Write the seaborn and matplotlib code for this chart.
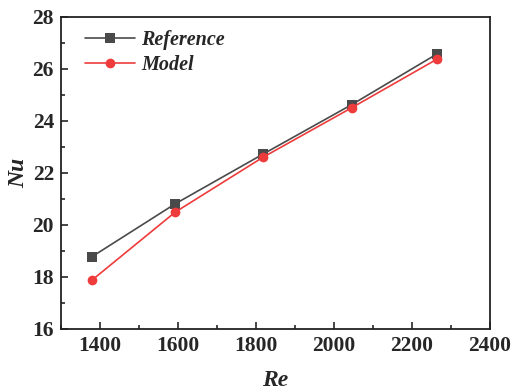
import matplotlib
matplotlib.use("Agg")
import matplotlib.pyplot as plt
import seaborn as sns
import pandas as pd
from matplotlib.ticker import MultipleLocator

re_vals = [1380, 1593, 1818, 2045, 2265]
nu_reference = [18.78, 20.81, 22.72, 24.62, 26.58]
nu_model = [17.88, 20.49, 22.60, 24.50, 26.38]
series_names = ["Reference", "Model"]

df = pd.DataFrame({
    "Re": re_vals * 2,
    "Nu": nu_reference + nu_model,
    "series": [series_names[0]] * len(re_vals) + [series_names[1]] * len(re_vals),
})

sns.set_style("ticks")
plt.rcParams['font.family'] = ['Liberation Serif', 'DejaVu Serif']
plt.rcParams['font.weight'] = 'bold'

fig = plt.figure(figsize=(5.12, 3.92), dpi=100)
ax = fig.add_axes([0.119, 0.161, 0.838, 0.796])

palette = {"Reference": "#4a4a4a", "Model": "#ee3b3b"}
sns.lineplot(data=df, x="Re", y="Nu", hue="series", style="series",
             markers={"Reference": "s", "Model": "o"}, dashes=False,
             palette=palette, markersize=7, linewidth=1.2,
             markeredgewidth=0, ax=ax)

ax.set_xlim(1300, 2400)
ax.set_ylim(16, 28)
ax.xaxis.set_major_locator(MultipleLocator(200))
ax.xaxis.set_minor_locator(MultipleLocator(100))
ax.yaxis.set_major_locator(MultipleLocator(2))
ax.yaxis.set_minor_locator(MultipleLocator(1))
ax.tick_params(which='both', direction='in', top=False, right=False, labelsize=15.5, width=1.2)
ax.tick_params(which='major', length=5, pad=5)
ax.tick_params(which='minor', length=3)
for lbl in ax.get_xticklabels() + ax.get_yticklabels():
    lbl.set_fontweight('bold')
for sp in ax.spines.values():
    sp.set_visible(True)
    sp.set_linewidth(1.3)
    sp.set_color('#222222')

ax.set_xlabel("Re", fontsize=17, fontstyle='italic', fontweight='bold', labelpad=10)
ax.set_ylabel("Nu", fontsize=17, fontstyle='italic', fontweight='bold', labelpad=2)

leg = ax.legend(loc='upper left', bbox_to_anchor=(0.042, 0.978), frameon=False, handlelength=2.5,
                prop={'family': 'Liberation Serif', 'style': 'italic', 'weight': 'bold', 'size': 14.5},
                borderaxespad=0.0, borderpad=0.3, handletextpad=0.3, labelspacing=0.25)

fig.savefig("out.png", dpi=100)
